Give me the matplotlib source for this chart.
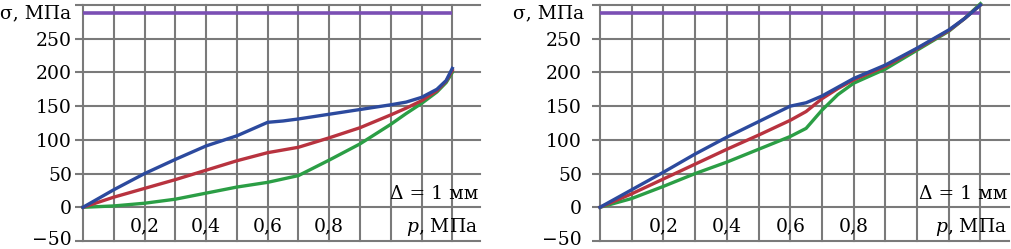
import matplotlib
matplotlib.use("Agg")
import matplotlib.pyplot as plt
from matplotlib.transforms import ScaledTranslation

# ---- data ----
p_left = [0.0, 0.1, 0.2, 0.3, 0.4, 0.5, 0.6, 0.65, 0.7, 0.8, 0.9, 1.0, 1.05, 1.1, 1.15, 1.18, 1.2]
blue_left = [0, 26, 50, 71, 91, 106, 126, 128, 131, 138, 145, 152, 156, 163, 175, 188, 206]
red_left = [0, 15, 28, 41, 55, 69, 81, 85, 89, 103, 118, 137, 147, 158, 173, 187, 203]
green_left = [0, 2, 6, 12, 21, 30, 37, 42, 47, 70, 94, 123, 139, 154, 171, 185, 200]

p_right = [0.0, 0.1, 0.2, 0.3, 0.4, 0.5, 0.6, 0.65, 0.7, 0.75, 0.8, 0.9, 1.0, 1.1, 1.15, 1.2]
blue_right = [0, 26, 52, 79, 104, 127, 150, 155, 165, 178, 191, 211, 236, 263, 280, 300]
red_right = [0, 20, 42, 64, 86, 107, 129, 142, 161, 176, 189, 209, 235, 262, 280, 300]
green_right = [0, 13, 31, 50, 67, 86, 105, 117, 144, 167, 184, 205, 233, 261, 280, 302]

limit_stress = 288
p_limit = [0.0, 1.2]

y_ticks = [-50, 0, 50, 100, 150, 200, 250]
y_tick_labels = ["\u221250", "0", "50", "100", "150", "200", "250"]
x_grid = [0.1, 0.2, 0.3, 0.4, 0.5, 0.6, 0.7, 0.8, 0.9, 1.0, 1.1, 1.2]
x_label_pos = [0.2, 0.4, 0.6, 0.8]
x_label_txt = ["0,2", "0,4", "0,6", "0,8"]

C_BLUE = "#2c4a9e"
C_RED = "#b8333f"
C_GREEN = "#2b9e45"
C_PURPLE = "#7b4fb4"
C_GRID = "#7a7a7a"

plt.rcParams["font.family"] = ["DejaVu Serif"]
plt.rcParams["mathtext.fontset"] = "dejavuserif"
FS = 13.5

W, H = 1012, 249
fig = plt.figure(figsize=(W / 100, H / 100), dpi=100)

def make_panel(rect, p, blue, red, green, pad, sigma_off):
    ax = fig.add_axes(rect)
    ax.set_xlim(0, 1.29)
    ax.set_ylim(-50, 300)
    for s in ["top", "right", "bottom"]:
        ax.spines[s].set_visible(False)
    ax.spines["left"].set_color(C_GRID)
    ax.spines["left"].set_linewidth(1.5)
    ax.set_yticks(y_ticks + [300])
    ax.set_yticklabels(y_tick_labels + [""], fontsize=FS)
    ax.tick_params(axis="y", length=6, width=1.5, color=C_GRID, pad=pad)
    # nudge the lowest label up a little so it stays inside the image
    lab = ax.get_yticklabels()[0]
    lab.set_transform(lab.get_transform() + ScaledTranslation(0, 3 / 100, fig.dpi_scale_trans))
    ax.set_xticks(x_grid)
    ax.set_xticklabels([])
    ax.tick_params(axis="x", length=0)
    for yv in y_ticks + [300]:
        ax.axhline(yv, color=C_GRID, lw=1.5, zorder=1, clip_on=False)
    for xv in x_grid:
        ax.axvline(xv, color=C_GRID, lw=1.5, zorder=1, clip_on=False)
    ax.plot(p_limit, [limit_stress, limit_stress], color=C_PURPLE, lw=2.6, zorder=3,
            solid_capstyle="butt")
    ax.plot(p, green, color=C_GREEN, lw=2.4, zorder=4, clip_on=False)
    ax.plot(p, red, color=C_RED, lw=2.4, zorder=5, clip_on=False)
    ax.plot(p, blue, color=C_BLUE, lw=2.4, zorder=6, clip_on=False)
    for xv, t in zip(x_label_pos, x_label_txt):
        ax.text(xv, -29, t, ha="center", va="center", fontsize=FS, zorder=7)
    ax.text(1.285, -29, "$p$, МПа", ha="right", va="center", fontsize=FS, zorder=7)
    ax.text(1.285, 20, "Δ = 1 мм", ha="right", va="center", fontsize=FS, zorder=7)
    ax.annotate("σ, МПа", xy=(0, 288), xycoords=("axes fraction", "data"),
                xytext=(sigma_off, 0), textcoords="offset pixels",
                ha="right", va="center", fontsize=FS)
    return ax

ax1 = make_panel([83 / W, 8 / H, 397 / W, 236 / H], p_left, blue_left, red_left, green_left, 2, -12)
ax2 = make_panel([600 / W, 8 / H, 409 / W, 236 / H], p_right, blue_right, red_right, green_right, 7, -16)

fig.savefig("out.png", dpi=100)
